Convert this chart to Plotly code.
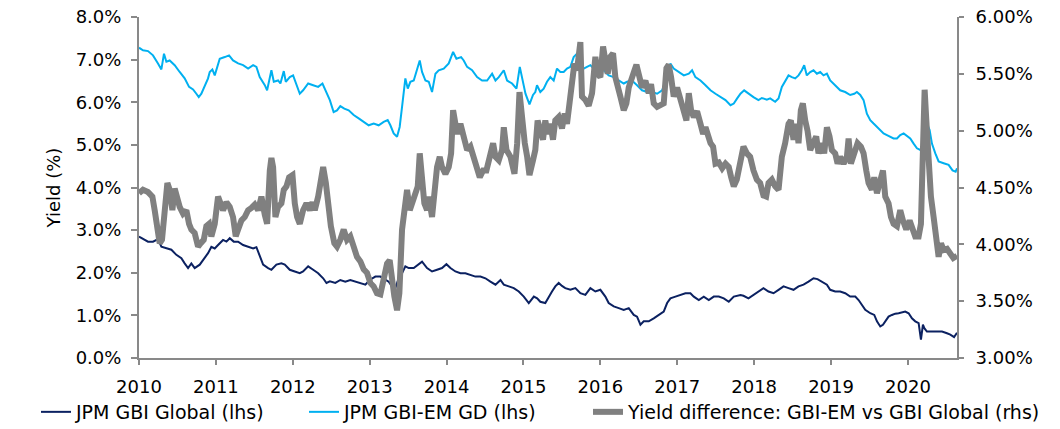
import plotly.graph_objects as go

# ---- data (decimal year, value in %) ----
gbi_global = [
    (2010.000, 2.85), (2010.052, 2.79), (2010.117, 2.73), (2010.182, 2.73), (2010.247, 2.79),
    (2010.291, 2.61), (2010.356, 2.57), (2010.421, 2.54), (2010.486, 2.42), (2010.551, 2.34),
    (2010.594, 2.22), (2010.638, 2.11), (2010.681, 2.22), (2010.724, 2.11), (2010.790, 2.19),
    (2010.855, 2.34), (2010.898, 2.46), (2010.941, 2.61), (2010.985, 2.57), (2011.028, 2.65),
    (2011.093, 2.77), (2011.137, 2.73), (2011.180, 2.81), (2011.232, 2.73), (2011.289, 2.73),
    (2011.354, 2.65), (2011.419, 2.61), (2011.484, 2.57), (2011.527, 2.60), (2011.570, 2.38),
    (2011.614, 2.19), (2011.679, 2.11), (2011.722, 2.07), (2011.787, 2.19), (2011.852, 2.22),
    (2011.896, 2.19), (2011.961, 2.07), (2012.026, 2.03), (2012.091, 1.99), (2012.134, 2.03),
    (2012.200, 2.15), (2012.265, 2.07), (2012.330, 1.99), (2012.395, 1.87), (2012.438, 1.76),
    (2012.482, 1.80), (2012.553, 1.76), (2012.618, 1.83), (2012.683, 1.79), (2012.748, 1.83),
    (2012.813, 1.79), (2012.879, 1.76), (2012.944, 1.72), (2013.000, 1.83), (2013.074, 1.91),
    (2013.139, 1.91), (2013.204, 1.83), (2013.247, 1.79), (2013.291, 1.68), (2013.334, 1.64),
    (2013.377, 1.87), (2013.421, 1.99), (2013.464, 2.15), (2013.508, 2.11), (2013.573, 2.11),
    (2013.625, 2.19), (2013.681, 2.26), (2013.746, 2.11), (2013.811, 2.03), (2013.876, 2.07),
    (2013.941, 2.11), (2013.998, 2.20), (2014.050, 2.11), (2014.115, 2.03), (2014.180, 1.99),
    (2014.245, 1.99), (2014.310, 1.95), (2014.375, 1.91), (2014.440, 1.91), (2014.505, 1.87),
    (2014.570, 1.79), (2014.636, 1.72), (2014.701, 1.83), (2014.744, 1.72), (2014.809, 1.68),
    (2014.874, 1.64), (2014.939, 1.56), (2015.004, 1.44), (2015.069, 1.29), (2015.135, 1.44),
    (2015.178, 1.40), (2015.219, 1.32), (2015.284, 1.29), (2015.328, 1.44), (2015.371, 1.56),
    (2015.414, 1.68), (2015.458, 1.76), (2015.501, 1.69), (2015.544, 1.64), (2015.610, 1.60),
    (2015.675, 1.64), (2015.740, 1.52), (2015.805, 1.48), (2015.870, 1.64), (2015.935, 1.56),
    (2016.000, 1.60), (2016.065, 1.44), (2016.108, 1.29), (2016.174, 1.21), (2016.239, 1.17),
    (2016.304, 1.13), (2016.369, 1.17), (2016.434, 1.01), (2016.477, 0.97), (2016.521, 0.78),
    (2016.564, 0.86), (2016.629, 0.86), (2016.694, 0.93), (2016.759, 1.01), (2016.824, 1.09),
    (2016.868, 1.29), (2016.911, 1.40), (2016.976, 1.44), (2017.041, 1.48), (2017.106, 1.52),
    (2017.171, 1.52), (2017.215, 1.44), (2017.280, 1.36), (2017.345, 1.44), (2017.410, 1.36),
    (2017.475, 1.44), (2017.540, 1.44), (2017.605, 1.40), (2017.670, 1.32), (2017.735, 1.44),
    (2017.822, 1.48), (2017.861, 1.46), (2017.926, 1.40), (2017.991, 1.48), (2018.056, 1.56),
    (2018.121, 1.64), (2018.187, 1.56), (2018.252, 1.52), (2018.317, 1.60), (2018.382, 1.68),
    (2018.447, 1.64), (2018.512, 1.60), (2018.577, 1.68), (2018.642, 1.72), (2018.707, 1.79),
    (2018.772, 1.87), (2018.824, 1.85), (2018.881, 1.79), (2018.946, 1.72), (2018.989, 1.60),
    (2019.054, 1.56), (2019.119, 1.56), (2019.184, 1.52), (2019.249, 1.44), (2019.315, 1.44),
    (2019.358, 1.36), (2019.401, 1.25), (2019.445, 1.13), (2019.510, 1.05), (2019.562, 1.01),
    (2019.597, 0.86), (2019.640, 0.74), (2019.675, 0.78), (2019.705, 0.86), (2019.748, 0.97),
    (2019.792, 1.01), (2019.835, 1.04), (2019.879, 1.05), (2019.922, 1.07), (2019.965, 1.09),
    (2020.009, 1.05), (2020.052, 0.93), (2020.095, 0.86), (2020.139, 0.82), (2020.169, 0.43),
    (2020.195, 0.78), (2020.213, 0.70), (2020.247, 0.62), (2020.312, 0.62), (2020.377, 0.62),
    (2020.443, 0.62), (2020.508, 0.58), (2020.551, 0.55), (2020.600, 0.49), (2020.638, 0.59),
]

gbi_em_gd = [
    (2010.000, 7.28), (2010.052, 7.22), (2010.117, 7.20), (2010.182, 7.10), (2010.247, 6.91),
    (2010.291, 6.77), (2010.325, 7.14), (2010.356, 6.95), (2010.399, 6.98), (2010.464, 6.87),
    (2010.529, 6.71), (2010.594, 6.56), (2010.651, 6.36), (2010.703, 6.30), (2010.746, 6.20),
    (2010.777, 6.12), (2010.811, 6.20), (2010.855, 6.40), (2010.898, 6.56), (2010.920, 6.71),
    (2010.954, 6.77), (2010.985, 6.63), (2011.015, 6.83), (2011.050, 7.02), (2011.115, 7.06),
    (2011.171, 7.10), (2011.223, 6.98), (2011.289, 6.91), (2011.354, 6.87), (2011.419, 6.79),
    (2011.484, 6.87), (2011.527, 6.83), (2011.570, 6.59), (2011.636, 6.40), (2011.666, 6.28),
    (2011.722, 6.75), (2011.753, 6.48), (2011.809, 6.51), (2011.839, 6.44), (2011.883, 6.73),
    (2011.909, 6.48), (2011.961, 6.59), (2012.004, 6.63), (2012.048, 6.40), (2012.091, 6.20),
    (2012.134, 6.28), (2012.200, 6.44), (2012.265, 6.40), (2012.330, 6.36), (2012.386, 6.44),
    (2012.438, 6.24), (2012.482, 6.05), (2012.531, 5.77), (2012.575, 5.81), (2012.618, 5.91),
    (2012.670, 5.85), (2012.727, 5.81), (2012.792, 5.70), (2012.857, 5.62), (2012.922, 5.54),
    (2012.987, 5.46), (2013.052, 5.50), (2013.117, 5.46), (2013.182, 5.54), (2013.234, 5.58),
    (2013.269, 5.46), (2013.312, 5.27), (2013.356, 5.19), (2013.390, 5.42), (2013.421, 5.89),
    (2013.443, 6.28), (2013.464, 6.56), (2013.495, 6.32), (2013.529, 6.48), (2013.573, 6.51),
    (2013.616, 6.79), (2013.651, 6.98), (2013.681, 6.71), (2013.725, 6.51), (2013.768, 6.48),
    (2013.811, 6.24), (2013.855, 6.67), (2013.898, 6.75), (2013.963, 6.79), (2014.028, 6.91),
    (2014.085, 7.18), (2014.128, 7.02), (2014.189, 7.06), (2014.223, 6.98), (2014.267, 6.83),
    (2014.332, 6.75), (2014.397, 6.59), (2014.462, 6.51), (2014.527, 6.51), (2014.592, 6.67),
    (2014.636, 6.51), (2014.679, 6.59), (2014.744, 6.75), (2014.787, 6.51), (2014.852, 6.44),
    (2014.909, 6.32), (2014.952, 6.83), (2014.983, 6.59), (2015.026, 6.20), (2015.078, 5.95),
    (2015.124, 6.17), (2015.154, 6.24), (2015.176, 6.40), (2015.219, 6.24), (2015.263, 6.32),
    (2015.306, 6.48), (2015.349, 6.59), (2015.393, 6.51), (2015.436, 6.79), (2015.479, 6.71),
    (2015.523, 6.71), (2015.566, 6.79), (2015.610, 6.83), (2015.653, 7.06), (2015.696, 7.14),
    (2015.740, 6.83), (2015.783, 6.79), (2015.826, 6.83), (2015.870, 6.87), (2015.913, 6.79),
    (2015.957, 6.75), (2016.000, 6.83), (2016.043, 6.75), (2016.108, 6.63), (2016.174, 6.59),
    (2016.239, 6.51), (2016.304, 6.44), (2016.347, 6.48), (2016.412, 6.51), (2016.477, 6.40),
    (2016.542, 6.28), (2016.607, 6.24), (2016.672, 6.24), (2016.738, 6.20), (2016.803, 6.28),
    (2016.868, 6.59), (2016.911, 6.91), (2016.954, 6.79), (2017.020, 6.71), (2017.085, 6.63),
    (2017.150, 6.67), (2017.193, 6.75), (2017.236, 6.59), (2017.302, 6.51), (2017.367, 6.40),
    (2017.432, 6.28), (2017.497, 6.20), (2017.562, 6.12), (2017.627, 6.05), (2017.692, 5.93),
    (2017.735, 5.97), (2017.779, 6.09), (2017.822, 6.20), (2017.870, 6.28), (2017.926, 6.20),
    (2017.991, 6.12), (2018.056, 6.05), (2018.100, 6.10), (2018.165, 6.06), (2018.208, 6.09),
    (2018.273, 6.01), (2018.317, 6.09), (2018.360, 6.36), (2018.403, 6.51), (2018.447, 6.63),
    (2018.490, 6.59), (2018.534, 6.56), (2018.577, 6.63), (2018.620, 6.75), (2018.651, 6.87),
    (2018.685, 6.63), (2018.729, 6.71), (2018.772, 6.75), (2018.816, 6.67), (2018.859, 6.71),
    (2018.902, 6.63), (2018.946, 6.67), (2018.989, 6.51), (2019.054, 6.40), (2019.119, 6.28),
    (2019.184, 6.24), (2019.249, 6.17), (2019.302, 6.20), (2019.336, 6.24), (2019.380, 6.17),
    (2019.423, 6.05), (2019.466, 5.73), (2019.510, 5.58), (2019.553, 5.50), (2019.597, 5.42),
    (2019.640, 5.35), (2019.683, 5.27), (2019.727, 5.23), (2019.770, 5.19), (2019.813, 5.15),
    (2019.857, 5.15), (2019.900, 5.23), (2019.944, 5.27), (2019.987, 5.21), (2020.030, 5.15),
    (2020.074, 5.03), (2020.117, 4.92), (2020.161, 4.88), (2020.195, 4.88), (2020.226, 4.96),
    (2020.256, 5.46), (2020.282, 5.35), (2020.312, 5.03), (2020.356, 4.80), (2020.399, 4.61),
    (2020.464, 4.57), (2020.529, 4.53), (2020.580, 4.40), (2020.620, 4.37), (2020.638, 4.45),
]

yield_diff = [
    (2010.000, 4.45), (2010.052, 4.48), (2010.117, 4.46), (2010.174, 4.42), (2010.204, 4.30),
    (2010.234, 4.13), (2010.269, 4.01), (2010.299, 4.04), (2010.334, 4.30), (2010.369, 4.54),
    (2010.399, 4.48), (2010.434, 4.30), (2010.464, 4.49), (2010.495, 4.39), (2010.529, 4.33),
    (2010.573, 4.27), (2010.616, 4.30), (2010.651, 4.18), (2010.681, 4.13), (2010.724, 4.10),
    (2010.768, 3.98), (2010.803, 4.01), (2010.842, 4.04), (2010.876, 4.16), (2010.911, 4.18),
    (2010.941, 4.07), (2010.985, 4.18), (2011.028, 4.42), (2011.059, 4.36), (2011.093, 4.30),
    (2011.137, 4.37), (2011.180, 4.33), (2011.223, 4.24), (2011.258, 4.07), (2011.289, 4.13),
    (2011.332, 4.21), (2011.375, 4.24), (2011.419, 4.30), (2011.462, 4.32), (2011.505, 4.35),
    (2011.549, 4.30), (2011.592, 4.42), (2011.636, 4.26), (2011.666, 4.18), (2011.701, 4.65),
    (2011.722, 4.76), (2011.744, 4.68), (2011.774, 4.24), (2011.809, 4.33), (2011.852, 4.36),
    (2011.883, 4.48), (2011.918, 4.51), (2011.952, 4.59), (2011.996, 4.61), (2012.026, 4.36),
    (2012.056, 4.24), (2012.091, 4.18), (2012.134, 4.30), (2012.178, 4.36), (2012.221, 4.30),
    (2012.256, 4.37), (2012.286, 4.30), (2012.330, 4.42), (2012.360, 4.54), (2012.395, 4.68),
    (2012.430, 4.54), (2012.460, 4.30), (2012.495, 4.16), (2012.540, 4.01), (2012.575, 3.98),
    (2012.618, 4.04), (2012.662, 4.13), (2012.705, 4.04), (2012.748, 4.07), (2012.792, 3.98),
    (2012.835, 3.89), (2012.879, 3.85), (2012.922, 3.78), (2012.965, 3.75), (2013.009, 3.66),
    (2013.052, 3.63), (2013.095, 3.57), (2013.139, 3.56), (2013.182, 3.72), (2013.226, 3.83),
    (2013.260, 3.86), (2013.291, 3.63), (2013.321, 3.54), (2013.356, 3.42), (2013.386, 3.57),
    (2013.421, 4.13), (2013.451, 4.30), (2013.486, 4.48), (2013.521, 4.30), (2013.551, 4.36),
    (2013.594, 4.42), (2013.625, 4.51), (2013.651, 4.80), (2013.681, 4.59), (2013.711, 4.36),
    (2013.746, 4.30), (2013.768, 4.42), (2013.811, 4.24), (2013.842, 4.48), (2013.876, 4.68),
    (2013.911, 4.77), (2013.941, 4.68), (2013.985, 4.62), (2014.028, 4.68), (2014.059, 4.80),
    (2014.085, 5.18), (2014.115, 5.06), (2014.145, 4.97), (2014.180, 5.06), (2014.223, 4.95),
    (2014.267, 4.83), (2014.310, 4.86), (2014.354, 4.77), (2014.397, 4.68), (2014.432, 4.59),
    (2014.475, 4.65), (2014.518, 4.65), (2014.562, 4.77), (2014.605, 4.89), (2014.636, 4.77),
    (2014.679, 4.74), (2014.722, 4.83), (2014.744, 5.03), (2014.779, 4.83), (2014.831, 4.77),
    (2014.883, 4.62), (2014.918, 4.89), (2014.948, 5.34), (2014.983, 5.09), (2015.017, 4.89),
    (2015.048, 4.77), (2015.078, 4.61), (2015.124, 4.74), (2015.154, 4.83), (2015.184, 5.09),
    (2015.219, 5.00), (2015.254, 4.92), (2015.284, 5.09), (2015.315, 4.97), (2015.349, 5.06),
    (2015.384, 4.92), (2015.414, 5.09), (2015.458, 5.12), (2015.501, 5.02), (2015.536, 5.15),
    (2015.566, 5.06), (2015.601, 5.24), (2015.631, 5.36), (2015.662, 5.59), (2015.696, 5.53),
    (2015.718, 5.71), (2015.740, 5.78), (2015.761, 5.30), (2015.805, 5.27), (2015.848, 5.22),
    (2015.892, 5.33), (2015.935, 5.65), (2015.965, 5.50), (2016.000, 5.47), (2016.035, 5.74),
    (2016.065, 5.62), (2016.095, 5.50), (2016.130, 5.65), (2016.165, 5.68), (2016.195, 5.47),
    (2016.226, 5.36), (2016.260, 5.30), (2016.304, 5.18), (2016.338, 5.24), (2016.369, 5.38),
    (2016.412, 5.49), (2016.443, 5.53), (2016.469, 5.58), (2016.499, 5.47), (2016.542, 5.38),
    (2016.586, 5.44), (2016.629, 5.33), (2016.659, 5.41), (2016.694, 5.24), (2016.738, 5.21),
    (2016.781, 5.22), (2016.824, 5.24), (2016.859, 5.55), (2016.889, 5.58), (2016.920, 5.47),
    (2016.954, 5.30), (2016.998, 5.38), (2017.033, 5.30), (2017.076, 5.18), (2017.119, 5.09),
    (2017.150, 5.33), (2017.180, 5.18), (2017.215, 5.12), (2017.258, 5.17), (2017.302, 5.06),
    (2017.336, 4.97), (2017.367, 5.03), (2017.397, 4.95), (2017.432, 4.89), (2017.466, 4.86),
    (2017.497, 4.71), (2017.540, 4.72), (2017.584, 4.67), (2017.627, 4.71), (2017.670, 4.68),
    (2017.701, 4.59), (2017.735, 4.51), (2017.774, 4.57), (2017.818, 4.74), (2017.861, 4.86),
    (2017.905, 4.80), (2017.948, 4.77), (2017.991, 4.65), (2018.035, 4.57), (2018.078, 4.54),
    (2018.121, 4.43), (2018.156, 4.42), (2018.187, 4.54), (2018.230, 4.57), (2018.273, 4.51),
    (2018.317, 4.48), (2018.360, 4.77), (2018.403, 4.89), (2018.447, 5.06), (2018.477, 5.09),
    (2018.512, 4.92), (2018.547, 5.06), (2018.577, 4.89), (2018.607, 5.18), (2018.633, 5.24),
    (2018.664, 5.09), (2018.694, 5.00), (2018.729, 4.83), (2018.764, 4.89), (2018.807, 4.95),
    (2018.837, 4.80), (2018.881, 4.89), (2018.911, 4.80), (2018.946, 5.03), (2018.980, 4.95),
    (2019.011, 4.83), (2019.054, 4.80), (2019.085, 4.71), (2019.119, 4.77), (2019.163, 4.71),
    (2019.206, 4.77), (2019.228, 4.93), (2019.258, 4.71), (2019.302, 4.80), (2019.345, 4.89),
    (2019.388, 4.86), (2019.423, 4.80), (2019.458, 4.65), (2019.488, 4.54), (2019.531, 4.48),
    (2019.562, 4.59), (2019.597, 4.45), (2019.640, 4.54), (2019.675, 4.65), (2019.705, 4.42),
    (2019.748, 4.36), (2019.779, 4.24), (2019.813, 4.18), (2019.857, 4.16), (2019.900, 4.30),
    (2019.935, 4.21), (2019.978, 4.13), (2020.022, 4.21), (2020.052, 4.16), (2020.095, 4.07),
    (2020.139, 4.07), (2020.169, 4.18), (2020.195, 4.83), (2020.217, 5.36), (2020.239, 5.09),
    (2020.269, 4.74), (2020.299, 4.42), (2020.334, 4.24), (2020.369, 4.01), (2020.399, 3.89),
    (2020.430, 4.01), (2020.464, 3.95), (2020.508, 3.96), (2020.551, 3.92), (2020.590, 3.88),
    (2020.638, 3.90),
]

year_ticks = list(range(2010, 2021))
x_start, x_end = 2010.0, 2020.638
left_range = [0, 8]
right_range = [3, 6]

series_names = [
    "JPM GBI Global (lhs)",
    "JPM GBI-EM GD (lhs)",
    "Yield difference: GBI-EM vs GBI Global (rhs)",
]

FONT = "DejaVu Sans"
AXIS_GREY = "#898989"
W, H = 1060, 429


def unzip(points):
    return [p[0] for p in points], [p[1] for p in points]


fig = go.Figure()
x, y = unzip(gbi_global)
fig.add_trace(go.Scatter(x=x, y=y, name=series_names[0], mode="lines", legend="legend",
                         line=dict(color="#0B2161", width=2)))
x, y = unzip(gbi_em_gd)
fig.add_trace(go.Scatter(x=x, y=y, name=series_names[1], mode="lines", legend="legend2",
                         line=dict(color="#00B0F0", width=2)))
x, y = unzip(yield_diff)
fig.add_trace(go.Scatter(x=x, y=y, name=series_names[2], mode="lines", yaxis="y2",
                         legend="legend3", line=dict(color="#808080", width=6)))

axis_common = dict(showline=True, linecolor=AXIS_GREY, linewidth=2, ticks="outside",
                   tickcolor=AXIS_GREY, tickwidth=2, showgrid=False, zeroline=False,
                   tickfont=dict(family=FONT, size=18, color="#000000"))


def legend_at(px_x):
    return dict(orientation="h", xref="container", x=px_x / W, xanchor="left",
                yref="container", y=1 - 412 / H, yanchor="middle",
                font=dict(family=FONT, size=19, color="#000000"),
                bgcolor="rgba(0,0,0,0)")


fig.update_layout(
    width=W, height=H,
    margin=dict(l=139.3, r=103.3, t=16.7, b=70.7, autoexpand=False),
    paper_bgcolor="white", plot_bgcolor="white",
    font=dict(family=FONT, size=18, color="#000000"),
    showlegend=True,
    legend=legend_at(36),
    legend2=legend_at(304),
    legend3=legend_at(588),
    xaxis=dict(range=[x_start, x_end], tickvals=year_ticks,
               ticktext=[str(t) for t in year_ticks], ticklen=5,
               ticklabelstandoff=6, **axis_common),
    yaxis=dict(range=left_range, dtick=1, tick0=0, tickformat=".1f", ticksuffix="%",
               ticklen=6, ticklabelstandoff=6,
               title=dict(text="Yield (%)", font=dict(family=FONT, size=18), standoff=10),
               **axis_common),
    yaxis2=dict(range=right_range, dtick=0.5, tick0=3, tickformat=".2f", ticksuffix="%",
                overlaying="y", side="right", ticklen=5, ticklabelstandoff=8,
                **axis_common),
)

# the page body gets no default 8px margin, so the figure sits at the window's corner
fig.write_html("out.html",
               config={"displayModeBar": False, "staticPlot": True},
               post_script="document.body.style.margin='0';document.body.style.overflow='hidden';")
